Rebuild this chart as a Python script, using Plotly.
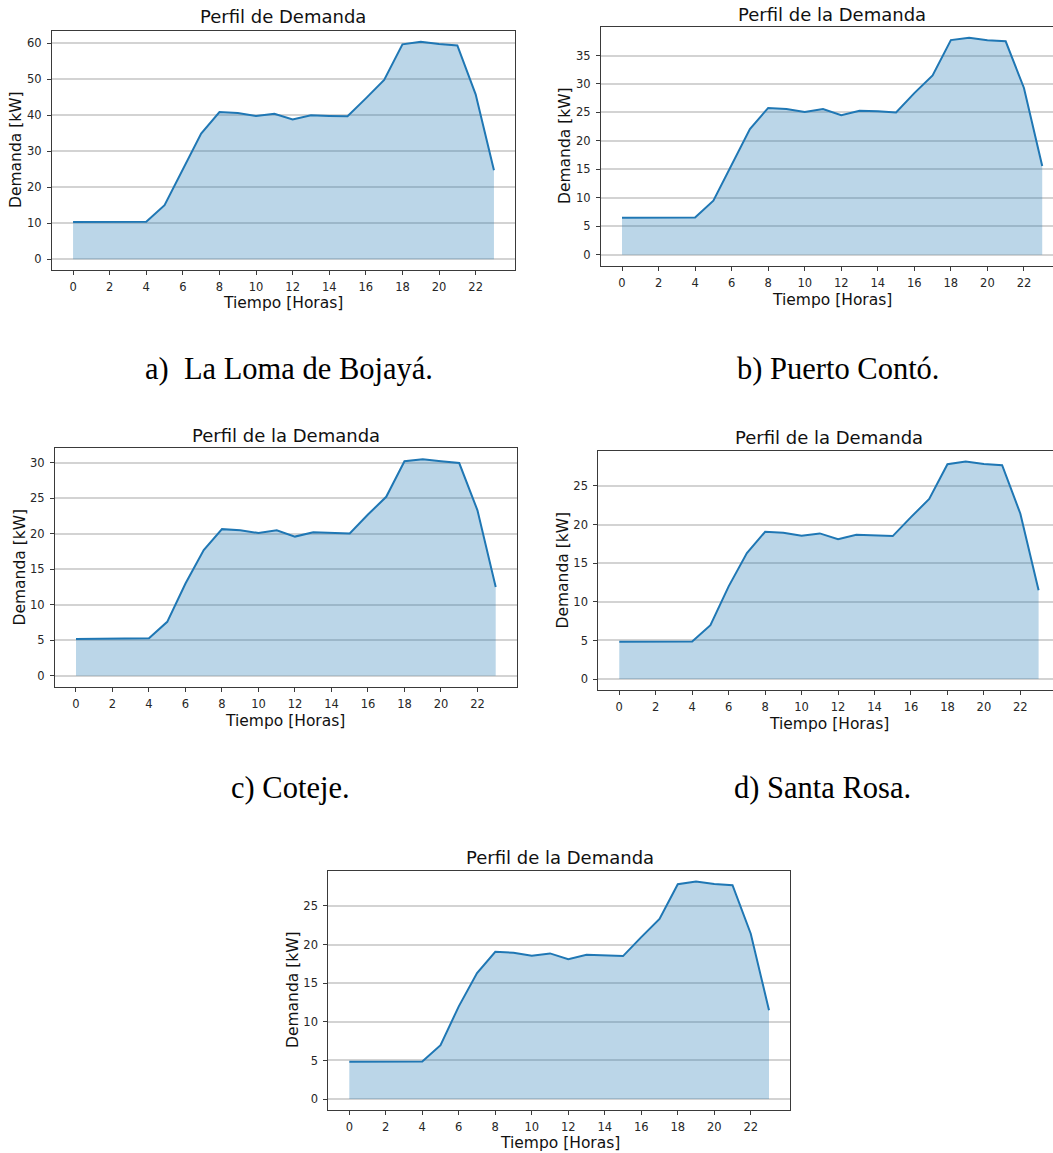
import plotly.graph_objects as go

# Hourly demand profiles (kW) for each community
hours = list(range(24))
x_ticks = list(range(0, 24, 2))

demanda_loma = [10.35, 10.35, 10.2, 10.35, 10.4, 15.0, 25.1, 34.9, 40.9, 40.6, 39.8, 40.4,
                38.8, 40.0, 39.8, 39.7, 44.7, 49.8, 59.7, 60.4, 59.8, 59.4, 45.8, 24.7]
demanda_puerto = [6.5, 6.5, 6.45, 6.5, 6.55, 9.5, 15.9, 22.1, 25.8, 25.6, 25.1, 25.6,
                  24.5, 25.3, 25.2, 25.0, 28.4, 31.5, 37.7, 38.1, 37.7, 37.5, 29.3, 15.6]
demanda_coteje = [5.2, 5.23, 5.19, 5.23, 5.28, 7.6, 13.0, 17.7, 20.65, 20.5, 20.1, 20.5,
                  19.6, 20.2, 20.15, 20.05, 22.7, 25.2, 30.2, 30.5, 30.2, 29.95, 23.3, 12.5]
demanda_santa_rosa = [4.82, 4.82, 4.78, 4.82, 4.86, 6.97, 12.0, 16.3, 19.06, 18.93, 18.55, 18.85,
                      18.1, 18.67, 18.6, 18.5, 20.95, 23.3, 27.8, 28.14, 27.84, 27.67, 21.4, 11.5]
demanda_e = [4.82, 4.82, 4.78, 4.82, 4.86, 6.97, 12.0, 16.3, 19.06, 18.93, 18.55, 18.85,
             18.1, 18.67, 18.6, 18.5, 20.95, 23.3, 27.8, 28.14, 27.84, 27.67, 21.4, 11.5]

titles = ["Perfil de Demanda", "Perfil de la Demanda", "Perfil de la Demanda",
          "Perfil de la Demanda", "Perfil de la Demanda"]
y_tick_steps = [10, 5, 5, 5, 5]
y_tick_max = [60, 35, 30, 25, 25]
captions = ["a)&nbsp;&nbsp;La Loma de Bojayá.", "b) Puerto Contó.", "c) Coteje.", "d) Santa Rosa."]
series = [demanda_loma, demanda_puerto, demanda_coteje, demanda_santa_rosa, demanda_e]

W, H = 1053, 1153
LINE = "#1f77b4"
FILL = "rgba(31,119,180,0.3)"
SPINE = "#3a3a3a"
TXT = "#262626"


def px(x):
    return x / W


def py(y):
    return 1 - y / H


# Panel geometry in pixels: axes box (left, right, top, bottom), x-range right end,
# title / axis-label placement
panels = [
    dict(box=(52, 515, 31, 270), xmax=24.15, full=True,
         title=(283, 17), xlab=(283, 303), ylab=(16, 150)),
    dict(box=(601, 1053, 27, 265.7), xmax=23.59, full=False,
         title=(832, 14), xlab=(832, 300), ylab=(565, 146)),
    dict(box=(55, 516.7, 448.3, 686.7), xmax=24.15, full=True,
         title=(285.5, 435), xlab=(285, 721), ylab=(19.5, 567)),
    dict(box=(598.3, 1053, 450.7, 690), xmax=23.79, full=False,
         title=(829, 437), xlab=(829, 724), ylab=(562.5, 570)),
    dict(box=(328.3, 790, 870.7, 1110), xmax=24.15, full=True,
         title=(559.5, 857), xlab=(560, 1143), ylab=(293, 990)),
]
caption_pos = [(289, 369), (838, 369), (290, 788), (822, 788)]

fig = go.Figure()
annotations = []
layout = {}

for i, (vals, p) in enumerate(zip(series, panels)):
    n = "" if i == 0 else str(i + 1)
    fig.add_trace(go.Scatter(
        x=hours, y=vals, mode="lines", fill="tozeroy",
        fillcolor=FILL, line=dict(color=LINE, width=2),
        xaxis="x" + n, yaxis="y" + n, showlegend=False, hoverinfo="x+y",
    ))
    ymax = max(vals)
    pad = 0.05 * ymax
    l, r, t, b = p["box"]
    layout["xaxis" + n] = dict(
        domain=[px(l), px(r)], anchor="y" + n, range=[-1.15, p["xmax"]],
        tickmode="array", tickvals=x_ticks, ticks="outside", ticklen=4,
        tickcolor=SPINE, tickwidth=1, showgrid=False, zeroline=False,
        showline=True, linecolor=SPINE, linewidth=1, mirror=True,
        tickfont=dict(family="DejaVu Sans", size=11.5, color=TXT),
        ticklabelstandoff=2,
    )
    layout["yaxis" + n] = dict(
        domain=[py(b), py(t)], anchor="x" + n, range=[-pad, ymax + pad],
        tickmode="array", tickvals=list(range(0, y_tick_max[i] + 1, y_tick_steps[i])),
        ticks="outside", ticklen=4, tickcolor=SPINE, tickwidth=1,
        showgrid=True, gridcolor="#d3d3d3", gridwidth=1.5, zeroline=False,
        showline=True, linecolor=SPINE, linewidth=1, mirror=p["full"],
        tickfont=dict(family="DejaVu Sans", size=11.5, color=TXT),
        ticklabelstandoff=3,
    )
    annotations.append(dict(
        text=titles[i], x=px(p["title"][0]), y=py(p["title"][1]),
        xref="paper", yref="paper", xanchor="center", yanchor="middle",
        showarrow=False, font=dict(family="DejaVu Sans", size=18, color="#111111"),
    ))
    annotations.append(dict(
        text="Tiempo [Horas]", x=px(p["xlab"][0]), y=py(p["xlab"][1]),
        xref="paper", yref="paper", xanchor="center", yanchor="middle",
        showarrow=False, font=dict(family="DejaVu Sans", size=15.5, color="#111111"),
    ))
    annotations.append(dict(
        text="Demanda [kW]", x=px(p["ylab"][0]), y=py(p["ylab"][1]),
        xref="paper", yref="paper", xanchor="center", yanchor="middle",
        textangle=-90, showarrow=False,
        font=dict(family="DejaVu Sans", size=15.5, color="#111111"),
    ))

for text, (cx, cy) in zip(captions, caption_pos):
    annotations.append(dict(
        text=text, x=px(cx), y=py(cy), xref="paper", yref="paper",
        xanchor="center", yanchor="middle", showarrow=False,
        font=dict(family="Liberation Serif", size=30.5, color="#000000"),
    ))

fig.update_layout(
    width=W, height=H, margin=dict(l=0, r=0, t=0, b=0),
    paper_bgcolor="white", plot_bgcolor="white",
    annotations=annotations, **layout,
)

fig.write_html("out.html")
